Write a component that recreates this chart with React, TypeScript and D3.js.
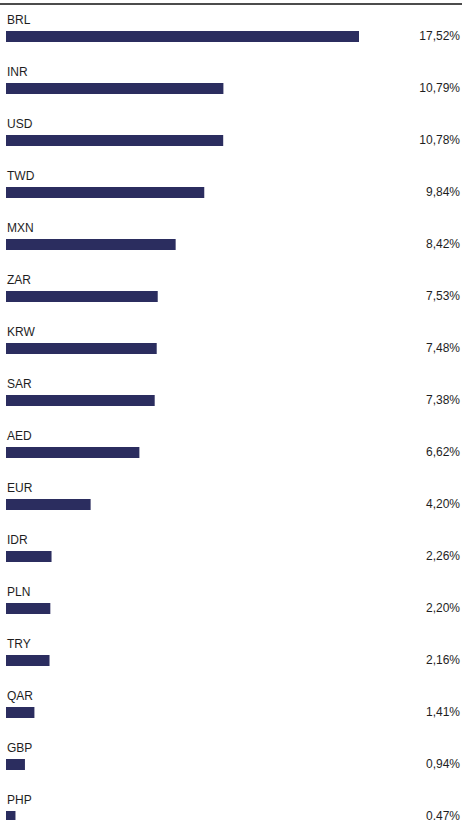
import React from "react";
import * as d3 from "d3";

const categories = ["BRL", "INR", "USD", "TWD", "MXN", "ZAR", "KRW", "SAR", "AED", "EUR", "IDR", "PLN", "TRY", "QAR", "GBP", "PHP"];
const values = [17.52, 10.79, 10.78, 9.84, 8.42, 7.53, 7.48, 7.38, 6.62, 4.2, 2.26, 2.2, 2.16, 1.41, 0.94, 0.47];

const W = 462;
const H = 820;

export default function App() {
  const x = d3.scaleLinear().domain([0, 17.52]).range([6, 359]);
  const y = d3.scaleBand<string>().domain(categories).range([5, 5 + 52 * categories.length]).paddingInner(0).paddingOuter(0);
  const fmt = (v: number) => v.toFixed(2).replace(".", ",") + "%";
  const font = "'Liberation Sans', Arial, sans-serif";
  return (
    <svg width={W} height={H} style={{ position: "absolute", left: 0, top: 0, background: "#fff" }}>
      <line x1={0} x2={W} y1={4} y2={4} stroke="#111" strokeWidth={1.5} />
      {categories.map((c, i) => {
        const y0 = y(c)!;
        return (
          <g key={c}>
            <text x={7} y={y0 + 19} fontFamily={font} fontSize={12} fill="#1e1e1e">{c}</text>
            <rect x={x(0)} y={y0 + 26} width={x(values[i]) - x(0)} height={11} fill="#2b2d5f" />
            <text x={460} y={y0 + 35} textAnchor="end" fontFamily={font} fontSize={12} fill="#1e1e1e">{fmt(values[i])}</text>
          </g>
        );
      })}
    </svg>
  );
}
